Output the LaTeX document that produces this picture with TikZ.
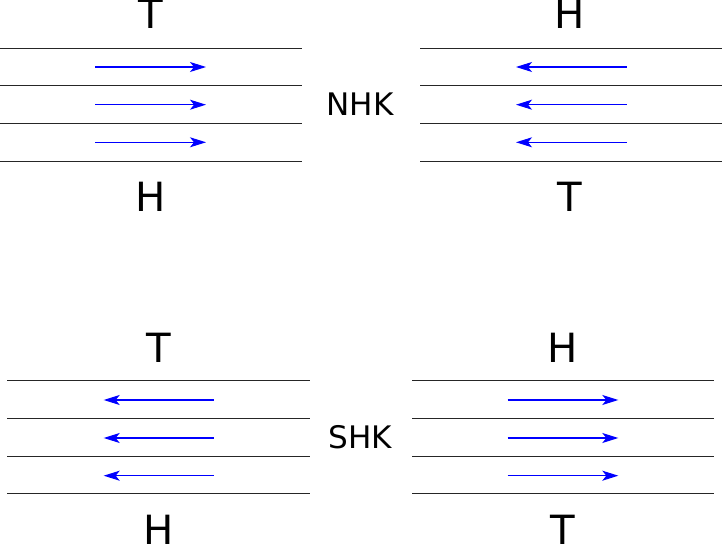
\documentclass[tikz,border=0pt]{standalone}
\usepackage{fontspec}
\setmainfont{DejaVu Sans}
\usetikzlibrary{arrows.meta}
\begin{document}
\begin{tikzpicture}[x=0.75pt,y=-0.75pt,
  lane/.style={draw=black!85,line width=0.75pt},
  flow/.style={draw=blue,line width=0.8pt,-{Stealth[length=12pt,width=7.5pt,inset=3pt]}},
  big/.style={anchor=base,inner sep=0pt,font=\fontsize{30.2pt}{36pt}\selectfont},
  small/.style={anchor=base,inner sep=0pt,font=\fontsize{23.3pt}{28pt}\selectfont}]
\useasboundingbox (0,0) rectangle (722,545);
% lane lines
\foreach \y in {48.3,86,123.7,161.3} {
  \draw[lane] (0,\y) -- (301.7,\y);
  \draw[lane] (420,\y) -- (722,\y);
}
\foreach \y in {381,419,456.7,494} {
  \draw[lane] (7.3,\y) -- (309.7,\y);
  \draw[lane] (412.3,\y) -- (714.3,\y);
}
% arrow end points
\foreach \i/\y in {1/67,2/104.7,3/142.3} {
  \coordinate (a\i s) at (95.3,\y);  \coordinate (a\i e) at (206,\y);
  \coordinate (b\i s) at (626.7,\y); \coordinate (b\i e) at (516,\y);
}
\foreach \i/\y in {1/400,2/438,3/475.7} {
  \coordinate (c\i s) at (213.7,\y); \coordinate (c\i e) at (103.7,\y);
  \coordinate (d\i s) at (507.7,\y); \coordinate (d\i e) at (618.3,\y);
}
\foreach \p in {a,b,c,d} {
  \foreach \i in {1,2,3} {
    \draw[flow] (\p\i s) -- (\p\i e);
  }
}
% labels
\node[big] (tlT) at (151,29) {T};
\node[big] (tlH) at (151,211.7) {H};
\node[big] (trH) at (570,29) {H};
\node[big] (trT) at (570,211.7) {T};
\node[small] (nhk) at (360,116) {NHK};
\node[big] (blT) at (158.7,362.3) {T};
\node[big] (blH) at (158.7,544.4) {H};
\node[big] (brH) at (563,362.3) {H};
\node[big] (brT) at (563,544.4) {T};
\node[small] (shk) at (360,449) {SHK};
\end{tikzpicture}
\end{document}
